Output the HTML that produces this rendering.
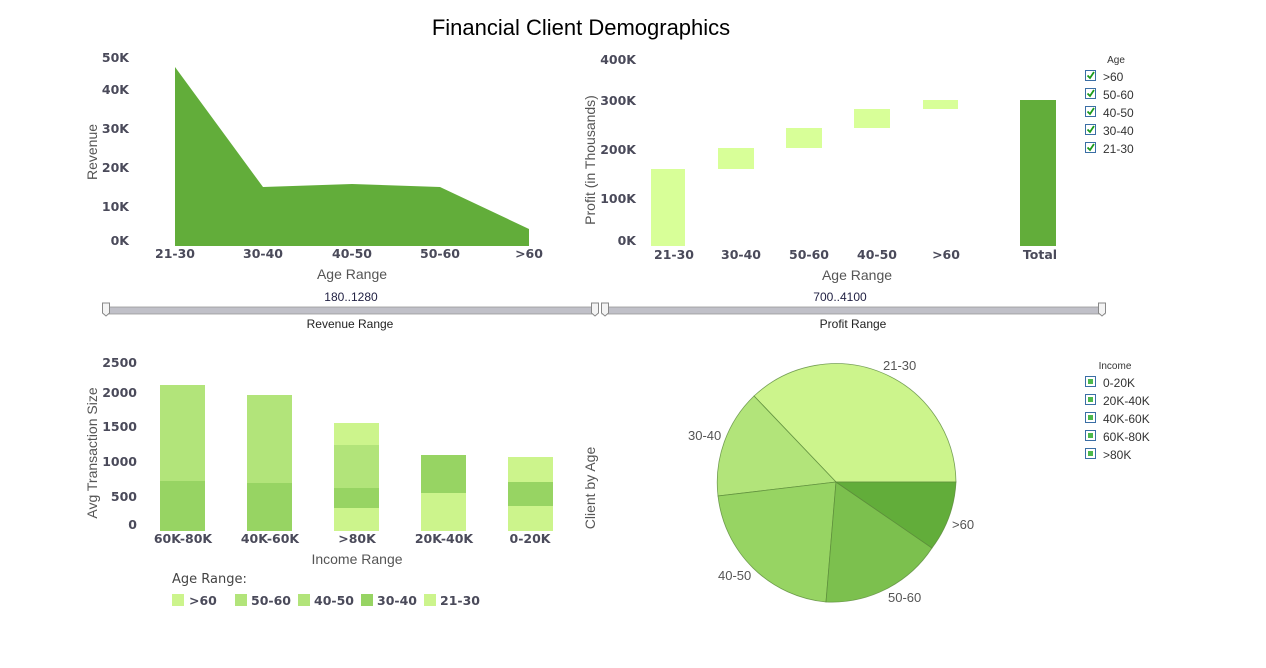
<!DOCTYPE html>
<html><head><meta charset="utf-8"><style>
html,body{margin:0;padding:0;background:#fff;}
svg{display:block;font-family:"Liberation Sans",sans-serif;}
.tk{font-family:"DejaVu Sans",sans-serif;font-weight:bold;font-size:12.5px;fill:#4a4a5a;}
.at{font-size:14px;fill:#555;}
.lg{font-size:12px;fill:#333;}
</style></head><body>
<svg width="1266" height="668" viewBox="0 0 1266 668" xmlns="http://www.w3.org/2000/svg">
<defs>
<g id="hd"><path d="M-3.5,-7 h7 v10 l-3.5,3 l-3.5,-3z" fill="#f4f4f4" stroke="#888" stroke-width="1"/></g>
<g id="cb"><rect x="0.5" y="0.5" width="10" height="10" fill="#fff" stroke="#3a6ea5"/><path d="M2.5,5.5 l2.5,2.5 l4,-6" fill="none" stroke="#1a9a1a" stroke-width="1.8"/></g>
<g id="sq"><rect x="0.5" y="0.5" width="10" height="10" fill="#fff" stroke="#3a6ea5"/><rect x="3" y="3" width="5" height="5" fill="#4cb84c"/></g>
</defs>
<text x="581" y="35" text-anchor="middle" font-size="22" fill="#000">Financial Client Demographics</text>

<!-- Chart 1 -->
<polygon points="175,67 263,187 352,184 440,187 529,229 529,246 175,246" fill="#62ad3a"/>
<g class="tk" text-anchor="end">
<text x="129" y="62">50K</text><text x="129" y="94">40K</text><text x="129" y="133">30K</text>
<text x="129" y="172">20K</text><text x="129" y="211">10K</text><text x="129" y="245">0K</text></g>
<g class="tk" text-anchor="middle">
<text x="175" y="258">21-30</text><text x="263" y="258">30-40</text><text x="352" y="258">40-50</text>
<text x="440" y="258">50-60</text><text x="529" y="258">&gt;60</text></g>
<text class="at" x="352" y="279" text-anchor="middle">Age Range</text>
<text class="at" transform="translate(97,152) rotate(-90)" text-anchor="middle">Revenue</text>

<!-- sliders -->
<text x="351" y="301" text-anchor="middle" font-size="12" fill="#224">180..1280</text>
<rect x="104" y="307" width="493" height="7" fill="#c0c0c8" stroke="#999" stroke-width="0.8"/>
<use href="#hd" x="106" y="310"/><use href="#hd" x="595" y="310"/>
<text x="350" y="328" text-anchor="middle" font-size="12" fill="#222">Revenue Range</text>
<text x="840" y="301" text-anchor="middle" font-size="12" fill="#224">700..4100</text>
<rect x="602" y="307" width="503" height="7" fill="#c0c0c8" stroke="#999" stroke-width="0.8"/>
<use href="#hd" x="605" y="310"/><use href="#hd" x="1102" y="310"/>
<text x="853" y="328" text-anchor="middle" font-size="12" fill="#222">Profit Range</text>

<!-- Chart 2 -->
<g fill="#d8ff98">
<rect x="651" y="169" width="34" height="77"/><rect x="718" y="148" width="36" height="21"/>
<rect x="786" y="128" width="36" height="20"/><rect x="854" y="109" width="36" height="19"/>
<rect x="923" y="100" width="35" height="9"/></g>
<rect x="1020" y="100" width="36" height="146" fill="#62ad3a"/>
<g class="tk" text-anchor="end">
<text x="636" y="64">400K</text><text x="636" y="105">300K</text><text x="636" y="154">200K</text>
<text x="636" y="203">100K</text><text x="636" y="245">0K</text></g>
<g class="tk" text-anchor="middle">
<text x="674" y="259">21-30</text><text x="741" y="259">30-40</text><text x="809" y="259">50-60</text>
<text x="877" y="259">40-50</text><text x="946" y="259">&gt;60</text><text x="1040" y="259">Total</text></g>
<text class="at" x="857" y="280" text-anchor="middle">Age Range</text>
<text class="at" transform="translate(595,160) rotate(-90)" text-anchor="middle">Profit (in Thousands)</text>

<text x="1116" y="63" text-anchor="middle" font-size="10" fill="#333">Age</text>
<g class="lg">
<use href="#cb" x="1085" y="70"/><text x="1103" y="81">&gt;60</text>
<use href="#cb" x="1085" y="88"/><text x="1103" y="99">50-60</text>
<use href="#cb" x="1085" y="106"/><text x="1103" y="117">40-50</text>
<use href="#cb" x="1085" y="124"/><text x="1103" y="135">30-40</text>
<use href="#cb" x="1085" y="142"/><text x="1103" y="153">21-30</text></g>

<!-- Chart 3 -->
<rect x="160" y="481" width="45" height="50" fill="#97d463"/><rect x="160" y="385" width="45" height="96" fill="#b2e47a"/>
<rect x="247" y="483" width="45" height="48" fill="#97d463"/><rect x="247" y="395" width="45" height="88" fill="#b2e47a"/>
<rect x="334" y="508" width="45" height="23" fill="#ccf48c"/><rect x="334" y="488" width="45" height="20" fill="#97d463"/>
<rect x="334" y="445" width="45" height="43" fill="#b2e47a"/><rect x="334" y="423" width="45" height="22" fill="#ccf48c"/>
<rect x="421" y="493" width="45" height="38" fill="#ccf48c"/><rect x="421" y="455" width="45" height="38" fill="#97d463"/>
<rect x="508" y="506" width="45" height="25" fill="#ccf48c"/><rect x="508" y="482" width="45" height="24" fill="#97d463"/>
<rect x="508" y="457" width="45" height="25" fill="#ccf48c"/>
<g class="tk" text-anchor="end">
<text x="137" y="367">2500</text><text x="137" y="397">2000</text><text x="137" y="431">1500</text>
<text x="137" y="466">1000</text><text x="137" y="501">500</text><text x="137" y="529">0</text></g>
<g class="tk" text-anchor="middle">
<text x="183" y="543">60K-80K</text><text x="270" y="543">40K-60K</text><text x="357" y="543">&gt;80K</text>
<text x="444" y="543">20K-40K</text><text x="530" y="543">0-20K</text></g>
<text class="at" x="357" y="564" text-anchor="middle">Income Range</text>
<text class="at" transform="translate(97,453) rotate(-90)" text-anchor="middle">Avg Transaction Size</text>
<text x="172" y="583" font-size="13" fill="#444" font-family="DejaVu Sans,sans-serif">Age Range:</text>
<g class="tk" font-size="13">
<rect x="172" y="594" width="12" height="12" fill="#ccf48c"/><text x="189" y="605">&gt;60</text>
<rect x="235" y="594" width="12" height="12" fill="#b2e47a"/><text x="251" y="605">50-60</text>
<rect x="298" y="594" width="12" height="12" fill="#b2e47a"/><text x="314" y="605">40-50</text>
<rect x="361" y="594" width="12" height="12" fill="#97d463"/><text x="377" y="605">30-40</text>
<rect x="424" y="594" width="12" height="12" fill="#ccf48c"/><text x="440" y="605">21-30</text></g>

<!-- Pie -->
<g stroke="#5a8a3a" stroke-width="0.8" stroke-opacity="0.8">
<path d="M836,482 L956,482 A120,120 0 0,0 754,396 Z" fill="#ccf48c"/>
<path d="M836,482 L754,396 A120,120 0 0,0 718,496 Z" fill="#b2e47a"/>
<path d="M836,482 L718,496 A120,120 0 0,0 826,602 Z" fill="#97d463"/>
<path d="M836,482 L826,602 A120,120 0 0,0 932,548 Z" fill="#7cc04e"/>
<path d="M836,482 L932,548 A120,120 0 0,0 956,482 Z" fill="#62ad3a"/></g>
<g font-size="13" fill="#555">
<text x="883" y="370">21-30</text><text x="688" y="440">30-40</text><text x="718" y="580">40-50</text>
<text x="888" y="602">50-60</text><text x="952" y="529">&gt;60</text></g>
<text class="at" transform="translate(595,488) rotate(-90)" text-anchor="middle">Client by Age</text>
<text x="1115" y="369" text-anchor="middle" font-size="10" fill="#333">Income</text>
<g class="lg">
<use href="#sq" x="1085" y="376"/><text x="1103" y="387">0-20K</text>
<use href="#sq" x="1085" y="394"/><text x="1103" y="405">20K-40K</text>
<use href="#sq" x="1085" y="412"/><text x="1103" y="423">40K-60K</text>
<use href="#sq" x="1085" y="430"/><text x="1103" y="441">60K-80K</text>
<use href="#sq" x="1085" y="448"/><text x="1103" y="459">&gt;80K</text></g>
</svg>
</body></html>
